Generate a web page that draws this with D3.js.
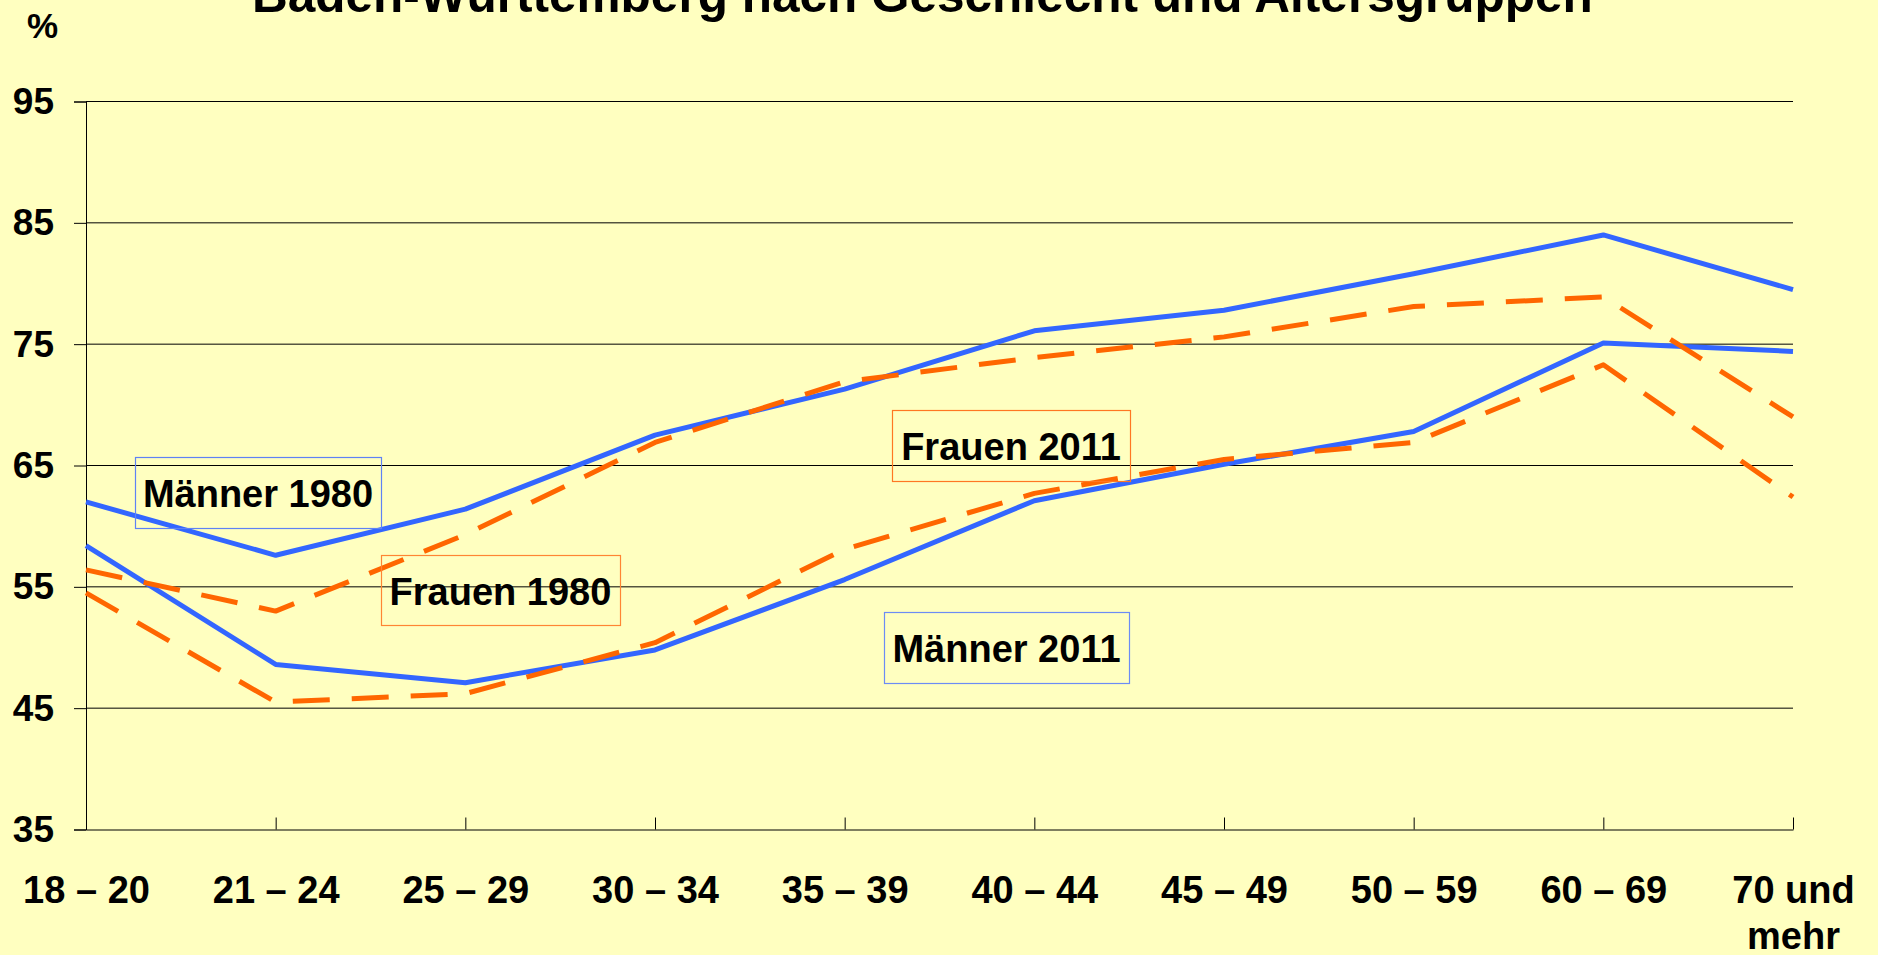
<!DOCTYPE html>
<html lang="de">
<head>
<meta charset="UTF-8">
<title>Wahlbeteiligung Baden-Württemberg</title>
<script src="https://d3js.org/d3.v7.min.js"></script>
<style>
  html, body { margin: 0; padding: 0; background: #ffffc0; }
  svg text { font-family: "Liberation Sans", Arial, sans-serif; font-weight: bold; fill: #000; }
</style>
</head>
<body>
<svg width="1878" height="955"></svg>
<script>
// categories (age groups) and tick labels
const ageGroups = ["18 – 20", "21 – 24", "25 – 29", "30 – 34", "35 – 39", "40 – 44", "45 – 49", "50 – 59", "60 – 69", "70 und mehr"];
const yTicks = [35, 45, 55, 65, 75, 85, 95];

// series values in %
const maenner1980 = [62.0, 57.6, 61.4, 67.5, 71.3, 76.1, 77.8, 80.8, 84.0, 79.5];
const frauen1980  = [56.4, 53.0, 59.3, 66.9, 71.9, 73.9, 75.6, 78.1, 78.9, 69.0];
const maenner2011 = [58.4, 48.6, 47.1, 49.8, 55.6, 62.1, 65.1, 67.8, 75.1, 74.4];
const frauen2011  = [54.5, 45.5, 46.2, 50.4, 58.1, 62.7, 65.5, 66.9, 73.3, 62.4];

const series = [
  { name: "Männer 1980", values: maenner1980, color: "#3366ff", dash: null },
  { name: "Männer 2011", values: maenner2011, color: "#3366ff", dash: null },
  { name: "Frauen 1980", values: frauen1980, color: "#ff6600", dash: "37,22" },
  { name: "Frauen 2011", values: frauen2011, color: "#ff6600", dash: "37,22" }
];

// text boxes next to the lines
const boxes = [
  { text: "Männer 1980", x: 135, y: 457, w: 246, h: 71, stroke: "#5f82f5" },
  { text: "Frauen 1980", x: 381, y: 555, w: 239, h: 70, stroke: "#ff8533" },
  { text: "Frauen 2011", x: 892, y: 410, w: 238, h: 71, stroke: "#ff7722" },
  { text: "Männer 2011", x: 884, y: 612, w: 245, h: 71, stroke: "#6c8cf5" }
];

const svg = d3.select("svg");
const plotLeft = 86, plotRight = 1793, plotTop = 101.5, plotBottom = 829.5;

const x = d3.scalePoint().domain(ageGroups).range([plotLeft, plotRight]);
const y = d3.scaleLinear().domain([35, 95]).range([plotBottom, plotTop]);

// title (top line lies above the visible area)
const title = svg.append("text")
  .attr("x", 252).attr("y", 12)
  .style("font-size", "40px")
  .text("Baden-Württemberg nach Geschlecht und Altersgruppen");
const tw = title.node().getComputedTextLength();
title.style("font-size", (40 * 1341 / tw) + "px");

svg.append("text")
  .attr("x", 27).attr("y", 38)
  .style("font-size", "35px")
  .text("%");

// gridlines
svg.append("g")
  .selectAll("line")
  .data(yTicks.filter(d => d > 35))
  .join("line")
  .attr("x1", plotLeft).attr("x2", plotRight)
  .attr("y1", d => y(d)).attr("y2", d => y(d))
  .attr("stroke", "#000").attr("stroke-width", 1);

// y axis
const yAxis = svg.append("g")
  .attr("transform", `translate(${plotLeft},0)`)
  .call(d3.axisLeft(y).tickValues(yTicks).tickSize(12).tickPadding(20).tickFormat(d3.format("d")));
yAxis.select(".domain").attr("stroke", "#000");
yAxis.selectAll(".tick line").attr("stroke", "#000");
yAxis.selectAll("text")
  .attr("fill", "#000")
  .style("font-size", "37px")
  .style("font-family", "'Liberation Sans', Arial, sans-serif")
  .style("font-weight", "bold");

// x axis with inward ticks
const xAxis = svg.append("g")
  .attr("transform", `translate(0,${plotBottom})`)
  .call(d3.axisBottom(x).tickSizeInner(-12).tickSizeOuter(0).tickFormat(""));
xAxis.select(".domain").attr("stroke", "#000");
xAxis.selectAll(".tick line").attr("stroke", "#000");

// x labels, "70 und mehr" on two lines
xAxis.selectAll(".tick").append("text")
  .attr("text-anchor", "middle")
  .style("font-size", "38px")
  .each(function(d) {
    const t = d3.select(this);
    const parts = d === "70 und mehr" ? ["70 und", "mehr"] : [d];
    parts.forEach((p, i) => {
      t.append("tspan").attr("x", 0).attr("y", 73 + i * 46).text(p);
    });
  });

// lines
const line = d3.line()
  .x((d, i) => x(ageGroups[i]))
  .y(d => y(d));

svg.append("g")
  .selectAll("path")
  .data(series)
  .join("path")
  .attr("fill", "none")
  .attr("stroke", d => d.color)
  .attr("stroke-width", 5)
  .attr("stroke-dasharray", d => d.dash)
  .attr("stroke-linejoin", "round")
  .attr("d", d => line(d.values));

// label boxes
const bx = svg.append("g")
  .selectAll("g")
  .data(boxes)
  .join("g")
  .attr("transform", d => `translate(${d.x},${d.y})`);

bx.append("rect")
  .attr("x", 0.5).attr("y", 0.5)
  .attr("width", d => d.w).attr("height", d => d.h)
  .attr("fill", "none")
  .attr("stroke", d => d.stroke)
  .attr("stroke-width", 1.2);

bx.append("text")
  .attr("x", d => d.w / 2).attr("y", 50)
  .attr("text-anchor", "middle")
  .style("font-size", "38px")
  .text(d => d.text);
</script>
</body>
</html>
